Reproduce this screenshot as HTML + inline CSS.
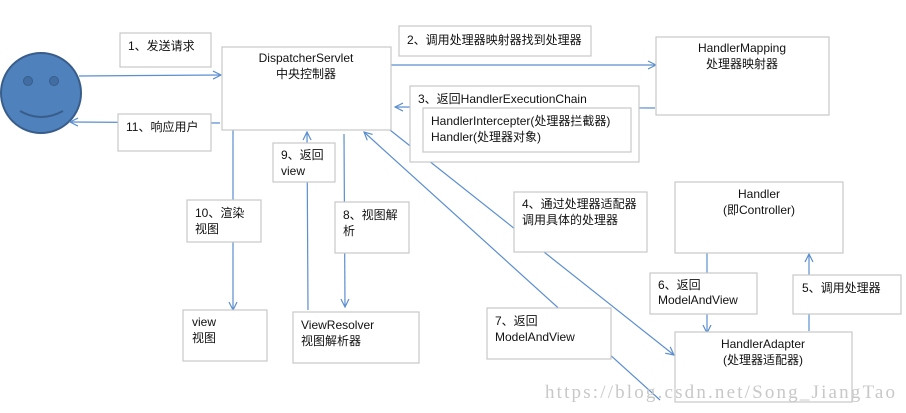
<!DOCTYPE html>
<html><head><meta charset="utf-8"><style>
html,body{margin:0;padding:0;background:#fff;}
svg{display:block;}
text{font-family:"Liberation Sans","Noto Sans CJK SC",sans-serif;font-size:12px;fill:#111;}
.b{fill:#fff;stroke:#c8c8c8;stroke-width:1.2;}
.l{stroke:#5b8ed0;stroke-width:1.2;fill:none;}
</style></head><body>
<svg width="906" height="413" viewBox="0 0 906 413" xmlns="http://www.w3.org/2000/svg">
<defs><marker id="a" markerWidth="10" markerHeight="10" refX="9" refY="5" orient="auto" markerUnits="userSpaceOnUse"><path d="M1,1 L9,5 L1,9" fill="none" stroke="#5b8ed0" stroke-width="1.2"/></marker></defs>
<circle cx="41" cy="93" r="40" fill="#4f81bd" stroke="#385d8a" stroke-width="2"/>
<circle cx="28" cy="81" r="4.5" fill="#416da3" stroke="#385d8a"/>
<circle cx="54" cy="81" r="4.5" fill="#416da3" stroke="#385d8a"/>
<path d="M20,111 Q41,123 63,111" fill="none" stroke="#385d8a" stroke-width="2"/>
<line class="l" x1="79" y1="76" x2="221" y2="75" marker-end="url(#a)"/>
<line class="l" x1="220" y1="123" x2="70" y2="122" marker-end="url(#a)"/>
<line class="l" x1="391" y1="65" x2="656" y2="65" marker-end="url(#a)"/>
<line class="l" x1="655" y1="108" x2="395" y2="107" marker-end="url(#a)"/>
<line class="l" x1="233" y1="130" x2="233" y2="310" marker-end="url(#a)"/>
<line class="l" x1="308" y1="310" x2="307" y2="132" marker-end="url(#a)"/>
<line class="l" x1="344" y1="134" x2="345" y2="307" marker-end="url(#a)"/>
<line class="l" x1="390" y1="130" x2="674" y2="355" marker-end="url(#a)"/>
<line class="l" x1="660" y1="400" x2="364" y2="132" marker-end="url(#a)"/>
<line class="l" x1="707" y1="253" x2="707" y2="333" marker-end="url(#a)"/>
<line class="l" x1="809" y1="331" x2="809" y2="254" marker-end="url(#a)"/>
<rect class="b" x="120" y="33" width="91" height="34"/><text x="128" y="50">1、发送请求</text>
<rect class="b" x="222" y="47" width="169" height="83"/>
<text x="306" y="62" text-anchor="middle" font-size="11.5">DispatcherServlet</text><text x="306" y="78" text-anchor="middle" font-size="13">中央控制器</text>
<rect class="b" x="118" y="114" width="93" height="37"/><text x="126" y="131">11、响应用户</text>
<rect class="b" x="399" y="26" width="192" height="30"/><text x="407" y="44">2、调用处理器映射器找到处理器</text>
<rect class="b" x="656" y="37" width="173" height="78"/>
<text x="742" y="52" text-anchor="middle" font-size="11.5">HandlerMapping</text><text x="742" y="68" text-anchor="middle" font-size="13">处理器映射器</text>
<rect class="b" x="410" y="86" width="229" height="76"/><text x="418" y="103">3、返回HandlerExecutionChain</text>
<rect class="b" x="423" y="108" width="208" height="44"/><text x="431" y="125">HandlerIntercepter(处理器拦截器)</text><text x="431" y="141">Handler(处理器对象)</text>
<rect class="b" x="273" y="143" width="62" height="39"/><text x="281" y="159">9、返回</text><text x="281" y="175">view</text>
<rect class="b" x="187" y="200" width="74" height="42"/><text x="195" y="217">10、渲染</text><text x="195" y="233">视图</text>
<rect class="b" x="335" y="202" width="74" height="51"/><text x="343" y="219">8、视图解</text><text x="343" y="235">析</text>
<rect class="b" x="183" y="310" width="84" height="51"/><text x="192" y="326">view</text><text x="192" y="342">视图</text>
<rect class="b" x="293" y="312" width="126" height="51"/><text x="301" y="329">ViewResolver</text><text x="301" y="345">视图解析器</text>
<rect class="b" x="675" y="182" width="168" height="71"/>
<text x="759" y="198" text-anchor="middle" font-size="11.5">Handler</text><text x="759" y="214" text-anchor="middle">(即Controller)</text>
<rect class="b" x="514" y="192" width="133" height="60"/><text x="522" y="208">4、通过处理器适配器</text><text x="522" y="224">调用具体的处理器</text>
<rect class="b" x="650" y="273" width="107" height="41"/><text x="658" y="289">6、返回</text><text x="658" y="304">ModelAndView</text>
<rect class="b" x="793" y="275" width="108" height="39"/><text x="802" y="292">5、调用处理器</text>
<rect class="b" x="675" y="332" width="177" height="70"/>
<text x="763" y="348" text-anchor="middle" font-size="11.5">HandlerAdapter</text><text x="763" y="364" text-anchor="middle">(处理器适配器)</text>
<rect class="b" x="487" y="308" width="124" height="51"/><text x="495" y="325">7、返回</text><text x="495" y="341">ModelAndView</text>
<text x="545" y="398" textLength="350" lengthAdjust="spacing" style="font-family:'Liberation Serif',serif;font-size:19px;fill:#c8c8c8">https://blog.csdn.net/Song_JiangTao</text>
</svg>
</body></html>
